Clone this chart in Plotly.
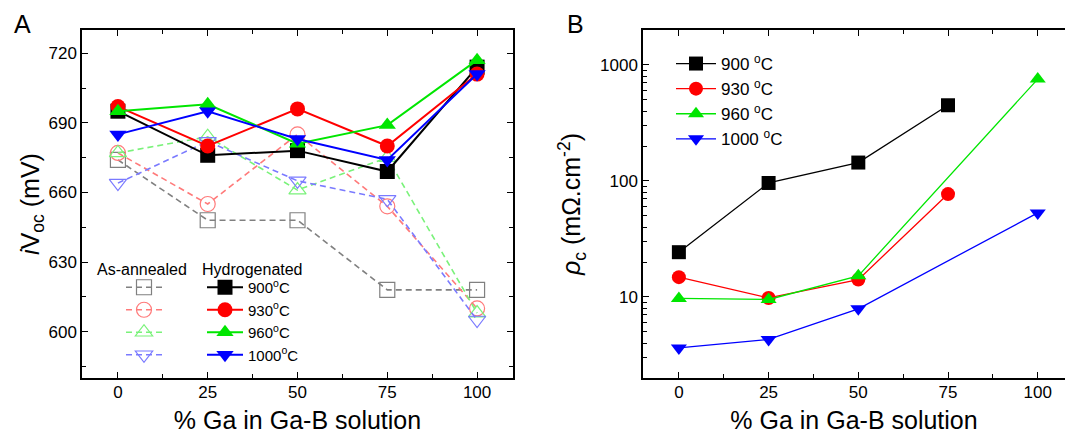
import plotly.graph_objects as go

# % Ga in Ga-B solution
ga = [0, 25, 50, 75, 100]
temps = ["900", "930", "960", "1000"]

# panel A: iVoc (mV)
voc_annealed = {
    "900": [674, 648, 648, 618, 618],
    "930": [677, 655, 685, 654, 610],
    "960": [677, 684, 661, 675, 608],
    "1000": [664, 682, 665, 657, 605],
}
voc_hydro = {
    "900": [695, 676, 678, 669, 714],
    "930": [697, 680, 696, 680, 711],
    "960": [695, 698, 681, 689, 717],
    "1000": [685, 695, 683, 674, 711],
}

# panel B: contact resistivity (mOhm.cm-2)
rho_x = {
    "900": [0, 25, 50, 75],
    "930": [0, 25, 50, 75],
    "960": [0, 25, 50, 100],
    "1000": [0, 25, 50, 100],
}
rho_y = {
    "900": [24.3, 96, 144, 449],
    "930": [14.8, 9.8, 14.1, 77],
    "960": [9.7, 9.5, 15.2, 755],
    "1000": [3.63, 4.3, 7.9, 53],
}

colores = {"900": "#000000", "930": "#ff0000", "960": "#00e600", "1000": "#0000ff"}
col_claros = {"900": "#808080", "930": "#ff7a7a", "960": "#7af27a", "1000": "#7a7aff"}
simbolos = {"900": "square", "930": "circle", "960": "triangle-up", "1000": "triangle-down"}
FONT = "Liberation Sans, Arial, Helvetica, sans-serif"
H = 348  # altura da área do gráfico


def py(p):
    # pixel vertical -> coordenada paper
    return 1 - (p - 30) / H


fig = go.Figure()

for t in temps:
    fig.add_trace(go.Scatter(
        x=ga, y=voc_annealed[t], mode="lines+markers", name=" ",
        line=dict(color=col_claros[t], width=1.6, dash="6px,4px"),
        marker=dict(symbol=simbolos[t] + "-open", size=15, color=col_claros[t],
                    line=dict(width=1.2)),
        legend="legend", xaxis="x", yaxis="y",
    ))

for t in temps:
    fig.add_trace(go.Scatter(
        x=ga, y=voc_hydro[t], mode="lines+markers", name=f"{t}<sup>o</sup>C",
        line=dict(color=colores[t], width=2),
        marker=dict(symbol=simbolos[t], size=15, color=colores[t]),
        legend="legend2", xaxis="x", yaxis="y",
    ))

for t in temps:
    fig.add_trace(go.Scatter(
        x=rho_x[t], y=rho_y[t], mode="lines+markers", name=f"{t} <sup>o</sup>C",
        line=dict(color=colores[t], width=1.3),
        marker=dict(symbol=simbolos[t], size=14, color=colores[t]),
        legend="legend3", xaxis="x2", yaxis="y2",
    ))

eje = dict(showline=True, linecolor="black", linewidth=1.5, ticks="inside",
           ticklen=6, tickwidth=1.3, tickcolor="black", showgrid=False,
           zeroline=False, tickfont=dict(size=17, family=FONT, color="black"))
menor_x = dict(ticks="inside", ticklen=4, dtick=12.5, tick0=0, tickcolor="black")

fig.update_layout(
    width=1065, height=434,
    margin=dict(l=0, r=0, t=30, b=56),
    plot_bgcolor="white", paper_bgcolor="white",
    font=dict(family=FONT, color="black"),
    xaxis=dict(**eje, domain=[82 / 1065, 513 / 1065], range=[-10, 110],
               tickvals=ga, mirror="ticks", ticklabelstandoff=-2,
               minor=menor_x,
               title=dict(text="% Ga in Ga-B solution", font=dict(size=25),
                          standoff=13)),
    yaxis=dict(**eje, range=[580, 730], dtick=30, tick0=0, mirror="ticks",
               minor=dict(ticks="inside", ticklen=4, dtick=15, tick0=0,
                          tickcolor="black"),
               title=dict(text="<i>i</i>V<sub>oc</sub> (mV)", font=dict(size=25),
                          standoff=2)),
    xaxis2=dict(**eje, domain=[643 / 1065, 1], range=[-10, 107.6],
                tickvals=ga, mirror="ticks", anchor="y2", ticklabelstandoff=-2,
                minor=menor_x,
                title=dict(text="% Ga in Ga-B solution", font=dict(size=25),
                           standoff=13)),
    yaxis2=dict(**eje, type="log", range=[0.301, 3.301], anchor="x2",
                tickvals=[10, 100, 1000],
                minor=dict(ticks="inside", ticklen=4, tickcolor="black",
                           tickvals=[2, 3, 4, 5, 6, 7, 8, 9, 20, 30, 40, 50, 60,
                                     70, 80, 90, 200, 300, 400, 500, 600, 700,
                                     800, 900, 2000]),
                title=dict(text="<i>ρ</i><sub>c</sub> (mΩ.cm<sup>-2</sup>)",
                           font=dict(size=25), standoff=12)),
    legend=dict(x=121 / 1065, y=py(271), xanchor="left", yanchor="top",
                bgcolor="rgba(0,0,0,0)", font=dict(size=15), itemwidth=36,
                tracegroupgap=0),
    legend2=dict(x=202 / 1065, y=py(271), xanchor="left", yanchor="top",
                 bgcolor="rgba(0,0,0,0)", font=dict(size=15), itemwidth=36,
                 tracegroupgap=0),
    legend3=dict(x=671 / 1065, y=py(46), xanchor="left", yanchor="top",
                 bgcolor="rgba(0,0,0,0)", font=dict(size=17), itemwidth=40,
                 tracegroupgap=0),
    annotations=[
        dict(text="A", x=22 / 1065, y=py(24), xref="paper", yref="paper",
             xanchor="center", yanchor="middle", showarrow=False,
             font=dict(size=25)),
        dict(text="As-annealed", x=142 / 1065, y=py(269), xref="paper",
             yref="paper", xanchor="center", yanchor="middle",
             showarrow=False, font=dict(size=16)),
        dict(text="Hydrogenated", x=252 / 1065, y=py(269), xref="paper",
             yref="paper", xanchor="center", yanchor="middle",
             showarrow=False, font=dict(size=16)),
        dict(text="B", x=575 / 1065, y=py(24), xref="paper", yref="paper",
             xanchor="center", yanchor="middle", showarrow=False,
             font=dict(size=25)),
    ],
)
fig.write_html("out.html", config={"displayModeBar": False},
               post_script="document.body.style.margin='0';")
